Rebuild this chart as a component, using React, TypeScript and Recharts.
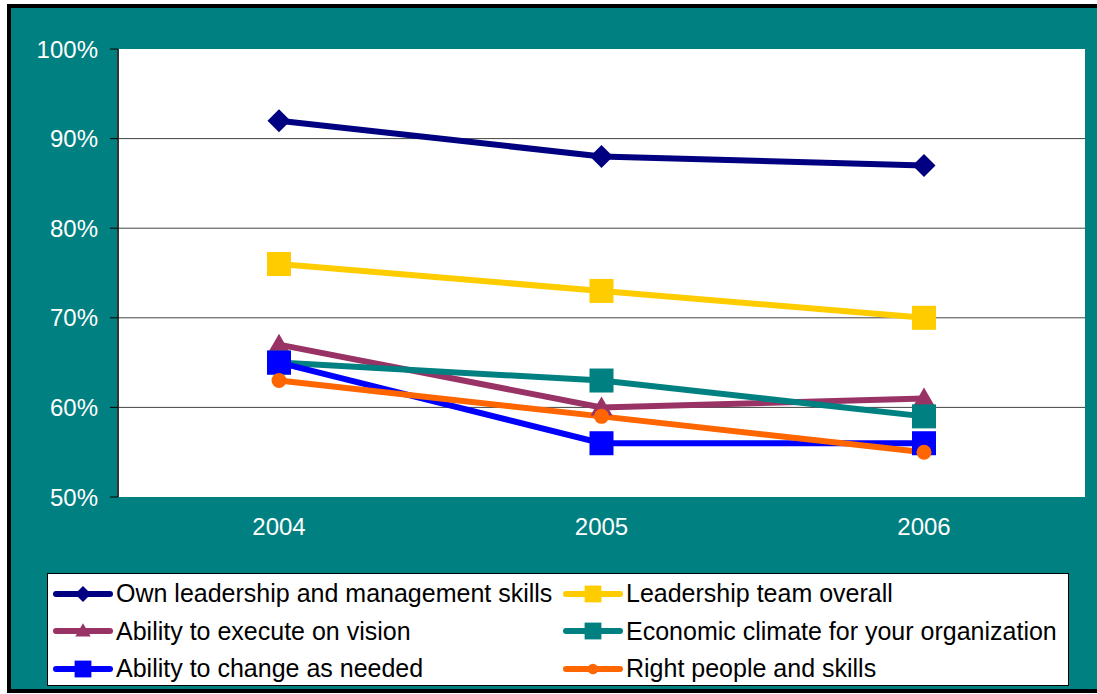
import React from 'react';
import {
  LineChart,
  Line,
  XAxis,
  YAxis,
  CartesianGrid,
  Legend,
} from 'recharts';

// Survey years
const years = ['2004', '2005', '2006'];

// Series values (share of respondents)
const ownLeadership = [0.92, 0.88, 0.87];
const leadershipTeam = [0.76, 0.73, 0.7];
const executeVision = [0.67, 0.6, 0.61];
const economicClimate = [0.65, 0.63, 0.59];
const abilityToChange = [0.65, 0.56, 0.56];
const rightPeople = [0.63, 0.59, 0.55];

const yTicks = [0.5, 0.6, 0.7, 0.8, 0.9, 1];
const boundaryTicks = [0, 1, 2, 3];

type Marker = 'diamond' | 'square' | 'triangle' | 'circle';

const series: { key: string; name: string; color: string; marker: Marker; values: number[] }[] = [
  { key: 'own', name: 'Own leadership and management skills', color: '#000080', marker: 'diamond', values: ownLeadership },
  { key: 'team', name: 'Leadership team overall', color: '#FFCC00', marker: 'square', values: leadershipTeam },
  { key: 'execute', name: 'Ability to execute on vision', color: '#993366', marker: 'triangle', values: executeVision },
  { key: 'economic', name: 'Economic climate for your organization', color: '#008080', marker: 'square', values: economicClimate },
  { key: 'change', name: 'Ability to change as needed', color: '#0000FF', marker: 'square', values: abilityToChange },
  { key: 'people', name: 'Right people and skills', color: '#FF6600', marker: 'circle', values: rightPeople },
];

const data = years.map((year, i) => {
  const row: Record<string, any> = { name: year, idx: i + 0.5 };
  series.forEach(s => { row[s.key] = s.values[i]; });
  return row;
});

const FONT = '"Liberation Sans", Arial, sans-serif';

function markerShape(marker: Marker, cx: number, cy: number, color: string, scale = 1) {
  if (marker === 'diamond') {
    const r = 11.5 * scale;
    return <polygon points={`${cx},${cy - r} ${cx + r},${cy} ${cx},${cy + r} ${cx - r},${cy}`} fill={color} />;
  }
  if (marker === 'square') {
    const h = 12 * scale;
    return <rect x={cx - h} y={cy - h} width={h * 2} height={h * 2} fill={color} />;
  }
  if (marker === 'triangle') {
    const w = 11 * scale;
    return <polygon points={`${cx},${cy - 11 * scale} ${cx + w},${cy + 8 * scale} ${cx - w},${cy + 8 * scale}`} fill={color} />;
  }
  return <circle cx={cx} cy={cy} r={7.5 * scale} fill={color} />;
}

function makeDot(marker: Marker, color: string) {
  return (props: any) => {
    const { cx, cy, index } = props;
    if (cx == null || cy == null) return <g key={index} />;
    return <g key={index}>{markerShape(marker, cx, cy, color)}</g>;
  };
}

function LegendContent() {
  return (
    <div
      style={{
        width: '100%',
        height: '100%',
        boxSizing: 'border-box',
        background: '#fff',
        border: '1px solid #000',
        display: 'grid',
        gridTemplateColumns: '510px 1fr',
        gridAutoRows: '37.5px',
        paddingTop: 1,
        paddingLeft: 5,
        fontFamily: FONT,
        fontSize: 25,
        color: '#000',
      }}
    >
      {series.map(s => (
        <div key={s.key} style={{ display: 'flex', alignItems: 'center', whiteSpace: 'nowrap' }}>
          <svg width={60} height={24} style={{ marginRight: 3, flexShrink: 0 }}>
            <line x1={3} y1={12} x2={57} y2={12} stroke={s.color} strokeWidth={6} strokeLinecap="round" />
            {markerShape(s.marker, 30, 12, s.color, 0.7)}
          </svg>
          <span>{s.name}</span>
        </div>
      ))}
    </div>
  );
}

export default function App() {
  return (
    <div style={{ position: 'absolute', left: 0, top: 0, width: 1097, height: 694, overflow: 'hidden', background: '#fff' }}>
      <div
        style={{
          position: 'absolute',
          left: 7,
          top: 4,
          width: 1110,
          height: 689,
          boxSizing: 'border-box',
          border: '4px solid #000',
          background: '#008080',
        }}
      />
      <div style={{ position: 'absolute', left: 0, top: 0 }}>
        <LineChart
          width={1097}
          height={694}
          data={data}
          margin={{ top: 49, right: 12, left: 0, bottom: 137 }}
        >
          <CartesianGrid
            horizontal
            vertical={false}
            fill="#fff"
            stroke="#444"
            strokeWidth={1}
            horizontalValues={[0.6, 0.7, 0.8, 0.9]}
          />
          {/* tick marks between categories */}
          <XAxis
            xAxisId="bounds"
            type="number"
            dataKey="idx"
            domain={[0, 3]}
            ticks={boundaryTicks}
            height={0}
            tick={false}
            tickSize={6}
            tickLine={{ stroke: '#fff', strokeWidth: 1 }}
            axisLine={{ stroke: '#c0c0c0', strokeWidth: 3 }}
          />
          <XAxis
            dataKey="name"
            height={60}
            padding={{ left: 161, right: 161 }}
            axisLine={false}
            tickLine={false}
            tickSize={0}
            tickMargin={21}
            tick={{ fill: '#fff', fontSize: 24, fontFamily: FONT }}
          />
          <YAxis
            type="number"
            domain={[0.5, 1]}
            ticks={yTicks}
            width={118}
            interval={0}
            tickSize={8}
            tickMargin={12}
            axisLine={{ stroke: '#333', strokeWidth: 2 }}
            tickLine={{ stroke: '#000', strokeWidth: 1 }}
            tick={{ fill: '#fff', fontSize: 24, fontFamily: FONT }}
            tickFormatter={(v: number) => `${Math.round(v * 100)}%`}
          />
          <YAxis
            yAxisId="right"
            orientation="right"
            width={0}
            domain={[0.5, 1]}
            tick={false}
            tickLine={false}
            axisLine={{ stroke: '#c0c0c0', strokeWidth: 3 }}
          />
          <Legend
            layout="vertical"
            align="center"
            verticalAlign="middle"
            content={() => <LegendContent />}
            wrapperStyle={{ left: 47, top: 573, width: 1022, height: 113 }}
          />
          {series.map(s => (
            <Line
              key={s.key}
              type="linear"
              dataKey={s.key}
              name={s.name}
              stroke={s.color}
              strokeWidth={6}
              dot={makeDot(s.marker, s.color)}
              activeDot={false}
              legendType="line"
              isAnimationActive={false}
            />
          ))}
        </LineChart>
      </div>
    </div>
  );
}
